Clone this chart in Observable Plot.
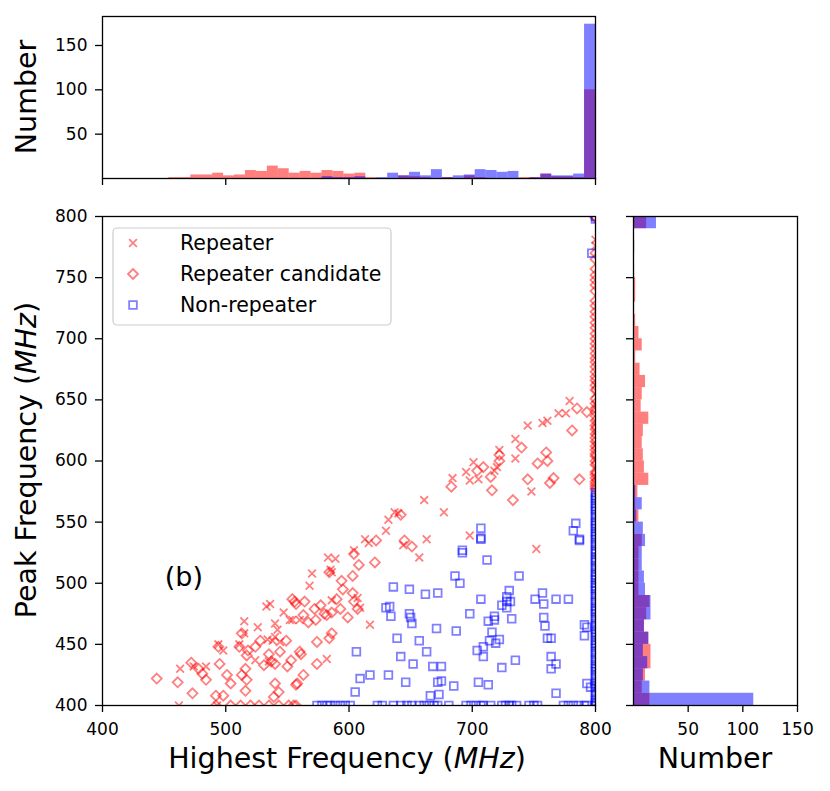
<!DOCTYPE html>
<html><head><meta charset="utf-8">
<script src="https://cdn.jsdelivr.net/npm/d3@7"></script>
<script src="https://cdn.jsdelivr.net/npm/@observablehq/plot@0.6"></script>
<style>
body{margin:0;background:#fff;}
#fig{position:relative;width:830px;height:791px;overflow:hidden;}
</style></head><body><div id="fig"></div><script>
// ---------- data ----------
const xTicks = [400, 500, 600, 700, 800];
const yTicks = [400, 450, 500, 550, 600, 650, 700, 750, 800];
const topCountTicks = [50, 100, 150];
const rightCountTicks = [50, 100, 150];

const repeater = [
[463,430],[474,432],[484,432],[494,450],[498,445],[511,450],[515,469],[515,459],[526,464],[533,481],[536,483],[540,467],[542,462],[547,476],[552,470],[534,454],[538,453],[540,456],[544,452],[524,437],[535,436],[560,470],[493,400],[462,400],
[583,521],[589,520],[657,521],[570,508],[585,511],[586,509],[568,498],[586,486],[609,480],[607,488],[554,470],[617,466],[582,438],
[684,586],[661,568],[677,558],[637,558],[640,557],[632,552],[630,543],[613,536],[616,533],[663,536],[644,531],[604,527],
[779,649],[770,639],[776,639],[745,629],[757,631],[761,633],[735,618],[722,609],[735,602],[701,599],[695,591],[698,584],[705,585],[720,595],[718,592],[748,575],[698,539],[752,528],
[800,781],[800,776],[800,662],[800,646],[800,631],[800,613],[800,601],[800,655],[800,624],[800,594],[800,587]
];

const candidate = [
[444,422],[461,419],[473,410],[472,435],[478,430],[481,426],[484,421],[495,434],[501,425],[504,418],[492,408],[498,408],[494,448],[511,448],[513,459],[517,441],[518,445],[516,430],[513,425],[517,421],[516,412],[524,448],[528,453],[535,442],[531,433],[537,436],[540,434],[540,418],[544,444],[549,453],[550,432],[553,437],[557,417],[554,487],[557,483],[539,407],[543,411],
[492,400],[504,400],[512,400],[520,400],[527,400],[535,400],[543,400],[551,400],[557,400],
[604,524],[621,517],[608,515],[651,530],[622,535],[584,509],[603,506],[594,502],[595,495],[603,492],[604,485],[590,487],[593,479],[586,476],[580,475],[572,479],[577,482],[564,485],[556,485],[563,474],[567,468],[573,470],[582,474],[599,472],[607,479],[586,459],[584,455],[574,452],[560,444],[561,442],[574,434],[563,425],[558,418],[555,400],
[683,579],[642,556],[645,535],
[785,643],[793,640],[781,625],[740,611],[722,605],[722,600],[709,595],[704,592],[715,587],[760,607],[753,598],[761,600],[745,585],[766,586],[763,582],[787,585],[716,576],[733,568],
[800,770],[800,757],[800,748],[800,739],[800,731],[800,722],[800,713],[800,704],[800,696],[800,688],[800,681],[800,673],[800,666],[800,658],[800,651],[800,643],[800,637],[800,629],[800,622],[800,616],[800,609],[800,604],[800,597],[800,591],[800,586],[800,581],[800,577],[800,800],[800,799],
[800,765],[800,752],[800,744],[800,727],[800,718],[800,709],[800,700],[800,692],[800,684],[800,677],[800,669],[800,662],[800,647],[800,640],[800,633],[800,626],[800,619],[800,612],[800,606],[800,600],[800,589],[800,583],[800,579]
];

const nonRepeater = [
[636,497],[649,495],[662,491],[672,492],[630,480],[633,481],[634,473],[649,475],[650,472],[651,467],[671,463],[639,455],[657,453],[663,444],[606,444],[642,440],[652,434],[668,432],[675,432],[632,425],[617,425],[609,422],[646,419],[672,419],[675,420],[605,411],[666,408],[673,409],
[574,400],[578,400],[582,400],[585,400],[589,400],[593,400],[597,400],[601,400],[623,400],[627,400],[636,400],[642,400],[647,400],[651,400],[657,400],[661,400],[665,400],[669,400],[672,400],
[707,536],[787,535],[692,525],[712,519],[686,506],[690,500],[738,506],[707,487],[730,494],[728,489],[728,485],[731,485],[724,482],[728,480],[751,487],[757,492],[758,483],[768,487],[778,487],[698,475],[713,469],[718,473],[718,470],[732,471],[758,472],[759,465],[791,466],[793,464],[791,457],[687,461],[716,460],[714,453],[722,454],[719,451],[709,448],[704,445],[709,440],[761,455],[764,455],[764,440],[768,434],[764,430],[735,437],[724,431],[685,416],[705,419],[713,417],[793,418],[796,415],[768,410],
[681,400],[695,400],[699,400],[703,400],[707,400],[709,400],[715,400],[724,400],[727,400],[730,400],[732,400],[736,400],[746,400],[750,400],[753,400],[774,400],[778,400],[782,400],[786,400],[791,400],[793,400],
[707,545],[707,537],[784,549],[782,543],[787,536],[692,527],[797,770],
[800,574],[800,570],[800,565],[800,561],[800,556],[800,551],[800,547],[800,542],[800,538],[800,533],[800,528],[800,524],[800,519],[800,514],[800,509],[800,505],[800,500],[800,496],[800,491],[800,486],[800,481],[800,477],[800,472],[800,467],[800,462],[800,458],[800,453],[800,449],[800,444],[800,439],[800,434],[800,430],[800,425],[800,420],[800,416],[800,411],[800,406],[800,402],[800,400],[800,800],[800,798],
[800,572],[800,568],[800,563],[800,559],[800,554],[800,549],[800,545],[800,540],[800,536],[800,531],[800,526],[800,521],[800,517],[800,512],[800,507],[800,503],[800,498],[800,494],[800,489],[800,484],[800,479],[800,475],[800,470],[800,465],[800,460],[800,456],[800,451],[800,447],[800,442],[800,437],[800,432],[800,428],[800,423],[800,418],[800,414],[800,409],[800,404],[800,401]
];

// top histogram (Highest Frequency), 40 bins from 445 MHz, width 8.875 MHz
const topBinStart = 445, topBinWidth = 8.875;
const topRedCounts = [0,1,1,4,4,6,3,4,9,8, 14,11,6,8,6,9,8,5,6,1, 0,0,3,2,1,0,1,0,3,1, 0,0,0,1,1,5,2,2,1,100];
const topBlueCounts = [0,0,0,0,0,0,0,0,0,0, 0,0,0,0,0,2,1,1,2,0, 1,6,3,7,3,10,1,3,4,10, 9,7,8,0,1,5,3,3,5,174];

// right histogram (Peak Frequency), 40 bins from 400 MHz, width 10 MHz
const rightBinStart = 400, rightBinWidth = 10;
const rightRedCounts = [15,8,11,16,16,14,10,12,15,5, 5,5,5,8,1,5,2,4,14,10, 9,8,9,14,7,8,11,6,2,8, 5,2,1,2,2,1,0,1,0,12];
const rightBlueCounts = [110,15,9,13,9,14,10,16,16,11, 10,8,8,11,9,3,8,2,0,0, 0,0,0,0,0,0,0,0,0,0, 0,0,0,0,0,0,0,1,0,21];

const panelLabel = [{text: "(b)", x: 466, y: 505}];
const legendItems = [
  {label: "Repeater", symbol: "times", color: "#ff0000"},
  {label: "Repeater candidate", symbol: "diamond2", color: "#ff0000"},
  {label: "Non-repeater", symbol: "square2", color: "#0000ff"}
];

// ---------- build ----------
const RED = "#ff0000", BLUE = "#0000ff";
const R = {times: 3.6, diamond2: 4.5, square2: 4.9};
const topBins = (counts) => counts.map((c, i) => ({x1: topBinStart + i * topBinWidth, x2: topBinStart + (i + 1) * topBinWidth, count: c}));
const rightBins = (counts) => counts.map((c, i) => ({y1: rightBinStart + i * rightBinWidth, y2: rightBinStart + (i + 1) * rightBinWidth, count: c}));
const style = {fontFamily: "DejaVu Sans", fontSize: "17px", background: "transparent", overflow: "visible", color: "black"};

const fig = document.getElementById("fig");
function place(el, left, top) {
  el.style.position = "absolute"; el.style.left = left + "px"; el.style.top = top + "px";
  fig.appendChild(el);
}

const topHist = Plot.plot({
  width: 610, height: 200, marginLeft: 102, marginRight: 15, marginTop: 16, marginBottom: 22,
  style,
  x: {domain: [400, 800]}, y: {domain: [0, 182.7]},
  marks: [
    Plot.rectY(topBins(topRedCounts), {x1: "x1", x2: "x2", y1: 0, y2: "count", fill: RED, fillOpacity: 0.5}),
    Plot.rectY(topBins(topBlueCounts), {x1: "x1", x2: "x2", y1: 0, y2: "count", fill: BLUE, fillOpacity: 0.5}),
    Plot.axisX({ticks: xTicks, tickSize: 7, tickFormat: () => "", label: null, strokeWidth: 1.3}),
    Plot.axisY({ticks: topCountTicks, tickSize: 7, tickPadding: 8, label: null, strokeWidth: 1.3}),
    Plot.frame({stroke: "black", strokeWidth: 1.3})
  ]
});
place(topHist, 0, 0);

const dotOpts = (symbol, color) => ({x: d => d[0], y: d => d[1], symbol, r: R[symbol], fill: "none", stroke: color, strokeOpacity: 0.5, strokeWidth: 1.8, clip: "frame"});

const main = Plot.plot({
  width: 610, height: 591, marginLeft: 102, marginRight: 15, marginTop: 16, marginBottom: 86,
  style,
  x: {domain: [400, 800]}, y: {domain: [400, 800]},
  marks: [
    Plot.dot(repeater, dotOpts("times", RED)),
    Plot.dot(candidate, dotOpts("diamond2", RED)),
    Plot.dot(nonRepeater, dotOpts("square2", BLUE)),
    Plot.text(panelLabel, {x: "x", y: "y", text: "text", fontSize: 27, fill: "black"}),
    Plot.axisX({ticks: xTicks, tickSize: 7, tickPadding: 10, label: null, strokeWidth: 1.3}),
    Plot.axisY({ticks: yTicks, tickSize: 7, tickPadding: 8, label: null, strokeWidth: 1.3}),
    Plot.frame({stroke: "black", strokeWidth: 1.3})
  ]
});
place(main, 0, 200);

const rightHist = Plot.plot({
  width: 220, height: 591, marginLeft: 23, marginRight: 33, marginTop: 16, marginBottom: 86,
  style,
  x: {domain: [0, 150]}, y: {domain: [400, 800]},
  marks: [
    Plot.rectX(rightBins(rightRedCounts), {y1: "y1", y2: "y2", x1: 0, x2: "count", fill: RED, fillOpacity: 0.5}),
    Plot.rectX(rightBins(rightBlueCounts), {y1: "y1", y2: "y2", x1: 0, x2: "count", fill: BLUE, fillOpacity: 0.5}),
    Plot.axisX({ticks: rightCountTicks, tickSize: 7, tickPadding: 10, label: null, strokeWidth: 1.3}),
    Plot.axisY({ticks: yTicks, tickSize: 7, tickFormat: () => "", label: null, strokeWidth: 1.3}),
    Plot.frame({stroke: "black", strokeWidth: 1.3})
  ]
});
place(rightHist, 610, 200);

// ---------- overlay: axis titles and legend ----------
const ov = d3.create("svg").attr("width", 830).attr("height", 791)
  .style("position", "absolute").style("left", "0px").style("top", "0px")
  .style("pointer-events", "none").style("font-family", "DejaVu Sans");

function title(parts, x, y, rotate) {
  const t = ov.append("text").attr("font-size", 28.5).attr("text-anchor", "middle").attr("fill", "black")
    .attr("transform", `translate(${x},${y})` + (rotate ? " rotate(-90)" : ""));
  parts.forEach(p => t.append("tspan").attr("font-style", p.italic ? "italic" : "normal").text(p.t));
}
title([{t: "Highest Frequency ("}, {t: "MHz", italic: true}, {t: ")"}], 347, 768, false);
title([{t: "Number"}], 715, 768, false);
title([{t: "Peak Frequency ("}, {t: "MHz", italic: true}, {t: ")"}], 36, 460, true);
title([{t: "Number"}], 36, 97, true);

const lg = ov.append("g");
lg.append("rect").attr("x", 113).attr("y", 228).attr("width", 278).attr("height", 97).attr("rx", 4)
  .attr("fill", "white").attr("fill-opacity", 0.8).attr("stroke", "#cccccc").attr("stroke-width", 1.2);
const symMap = {times: d3.symbolTimes, diamond2: d3.symbolDiamond2, square2: d3.symbolSquare2};
legendItems.forEach((it, i) => {
  const cy = 243 + i * 31;
  lg.append("path").attr("transform", `translate(133,${cy})`)
    .attr("d", d3.symbol(symMap[it.symbol], Math.PI * R[it.symbol] ** 2)())
    .attr("fill", "none").attr("stroke", it.color).attr("stroke-opacity", 0.5).attr("stroke-width", 1.8);
  lg.append("text").attr("x", 180).attr("y", cy + 7).attr("font-size", 20.5).attr("fill", "black").text(it.label);
});
fig.appendChild(ov.node());
</script></body></html>
